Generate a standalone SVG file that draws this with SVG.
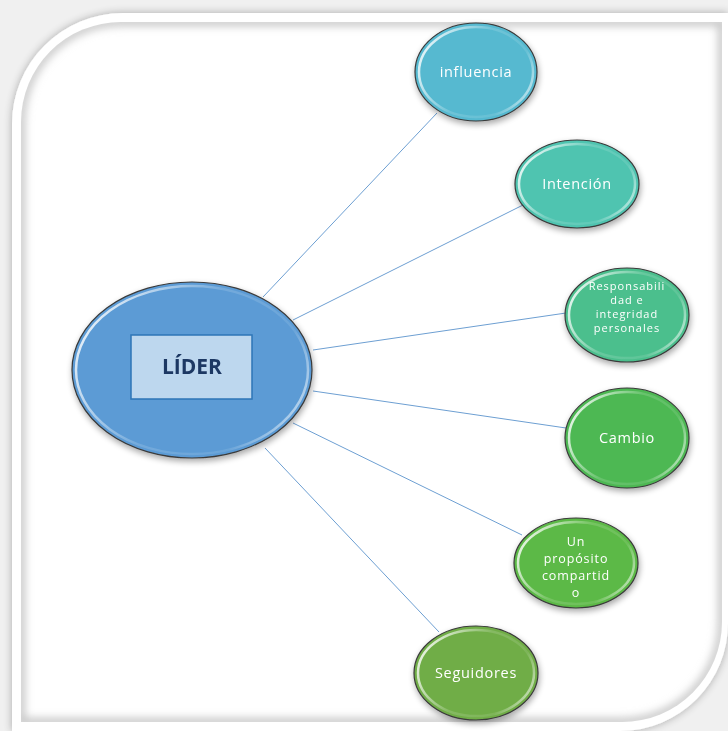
<svg xmlns="http://www.w3.org/2000/svg" width="728" height="731" viewBox="0 0 728 731">
<defs>
<style>
.node{stroke:#3a3a3a;stroke-width:1.2}
.rim{fill:none;stroke:url(#rimg);stroke-width:2.5}
.lbl{font-family:"Open Sans","Liberation Sans",sans-serif;font-size:14.5px;fill:#ffffff;text-anchor:middle;letter-spacing:0.7px}
.lblm{font-family:"Open Sans","Liberation Sans",sans-serif;font-size:12.5px;fill:#ffffff;text-anchor:middle;letter-spacing:0.9px}
.lbls{font-family:"Open Sans","Liberation Sans",sans-serif;font-size:11px;fill:#ffffff;text-anchor:middle;letter-spacing:1px}
.conn{stroke:#6d9fd2;stroke-width:1;fill:none}
</style>
<linearGradient id="rimg" x1="0" y1="0.3" x2="1" y2="0.7">
<stop offset="0" stop-color="#ffffff" stop-opacity="0.85"/>
<stop offset="0.45" stop-color="#ffffff" stop-opacity="0.15"/>
<stop offset="0.8" stop-color="#ffffff" stop-opacity="0.1"/>
<stop offset="1" stop-color="#ffffff" stop-opacity="0.6"/>
</linearGradient>
<filter id="sh" x="-20%" y="-20%" width="140%" height="140%">
<feGaussianBlur in="SourceAlpha" stdDeviation="3"/>
<feOffset dx="1" dy="3" result="b"/>
<feComponentTransfer><feFuncA type="linear" slope="0.35"/></feComponentTransfer>
<feMerge><feMergeNode/><feMergeNode in="SourceGraphic"/></feMerge>
</filter>
<filter id="fsh" x="-5%" y="-5%" width="110%" height="110%">
<feGaussianBlur in="SourceAlpha" stdDeviation="4"/>
<feComponentTransfer><feFuncA type="linear" slope="0.3"/></feComponentTransfer>
<feMerge><feMergeNode/><feMergeNode in="SourceGraphic"/></feMerge>
</filter>
<filter id="blur"><feGaussianBlur stdDeviation="4"/></filter>
<clipPath id="inner"><path d="M21,722 L21,122 A100 100 0 0 1 121,22 L722,22 L722,622 A100 100 0 0 1 622,722 Z"/></clipPath>
</defs>
<rect x="0" y="0" width="728" height="731" fill="#f0f0f0"/>
<g id="frame">
<path d="M12,731 L12,124 A111 111 0 0 1 123,13 L728,13 L728,622 A108 108 0 0 1 620,731 Z" fill="#ffffff" filter="url(#fsh)"/>
<path d="M21,722 L21,122 A100 100 0 0 1 121,22 L722,22 L722,622 A100 100 0 0 1 622,722 Z" fill="#ffffff"/>
<g clip-path="url(#inner)">
<path d="M21,722 L21,122 A100 100 0 0 1 121,22 L722,22 L722,622 A100 100 0 0 1 622,722 Z" fill="none" stroke="#c4c4c4" stroke-width="8" filter="url(#blur)"/>
</g>
</g>
<g id="connectors">
<line class="conn" x1="263" y1="297" x2="437" y2="113"/>
<line class="conn" x1="293" y1="320" x2="523" y2="205"/>
<line class="conn" x1="313" y1="350" x2="566" y2="313"/>
<line class="conn" x1="313" y1="391" x2="566" y2="428"/>
<line class="conn" x1="293" y1="423" x2="522" y2="535"/>
<line class="conn" x1="265" y1="448" x2="439" y2="632"/>
</g>
<g id="lider" filter="url(#sh)">
<ellipse class="node" cx="192" cy="370" rx="120" ry="88" fill="#5b9bd5"/>
<ellipse class="rim" cx="192" cy="370" rx="116" ry="84"/>
<rect x="131" y="335" width="121" height="64" fill="#bdd7ee" stroke="#2e75b6" stroke-width="1.5"/>
<text x="192" y="374" font-family="'Open Sans','Liberation Sans',sans-serif" font-size="21" font-weight="bold" fill="#1f3864" text-anchor="middle">LÍDER</text>
</g>
<g id="influencia" filter="url(#sh)">
<ellipse class="node" cx="476" cy="72" rx="61" ry="49" fill="#56b9d0"/>
<ellipse class="rim" cx="476" cy="72" rx="57" ry="45"/>
<text class="lbl" x="476" y="77">influencia</text>
</g>
<g id="intencion" filter="url(#sh)">
<ellipse class="node" cx="577" cy="184" rx="62" ry="44" fill="#4fc4b0"/>
<ellipse class="rim" cx="577" cy="184" rx="58" ry="40"/>
<text class="lbl" x="577" y="189">Intención</text>
</g>
<g id="responsabilidad" filter="url(#sh)">
<ellipse class="node" cx="627" cy="315" rx="62" ry="47" fill="#4cbf8d"/>
<ellipse class="rim" cx="627" cy="315" rx="58" ry="43"/>
<text class="lbls" x="627" y="290">Responsabili</text>
<text class="lbls" x="627" y="304">dad e</text>
<text class="lbls" x="627" y="318">integridad</text>
<text class="lbls" x="627" y="332">personales</text>
</g>
<g id="cambio" filter="url(#sh)">
<ellipse class="node" cx="627" cy="438" rx="62" ry="50" fill="#4db853"/>
<ellipse class="rim" cx="627" cy="438" rx="58" ry="46"/>
<text class="lbl" x="627" y="443">Cambio</text>
</g>
<g id="proposito" filter="url(#sh)">
<ellipse class="node" cx="576" cy="563" rx="62" ry="45" fill="#5cb946"/>
<ellipse class="rim" cx="576" cy="563" rx="58" ry="41"/>
<text class="lblm" x="576" y="546">Un</text>
<text class="lblm" x="576" y="563">propósito</text>
<text class="lblm" x="576" y="580">compartid</text>
<text class="lblm" x="576" y="597">o</text>
</g>
<g id="seguidores" filter="url(#sh)">
<ellipse class="node" cx="476" cy="673" rx="62" ry="47" fill="#70ad47"/>
<ellipse class="rim" cx="476" cy="673" rx="58" ry="43"/>
<text class="lbl" x="476" y="678">Seguidores</text>
</g>
</svg>
